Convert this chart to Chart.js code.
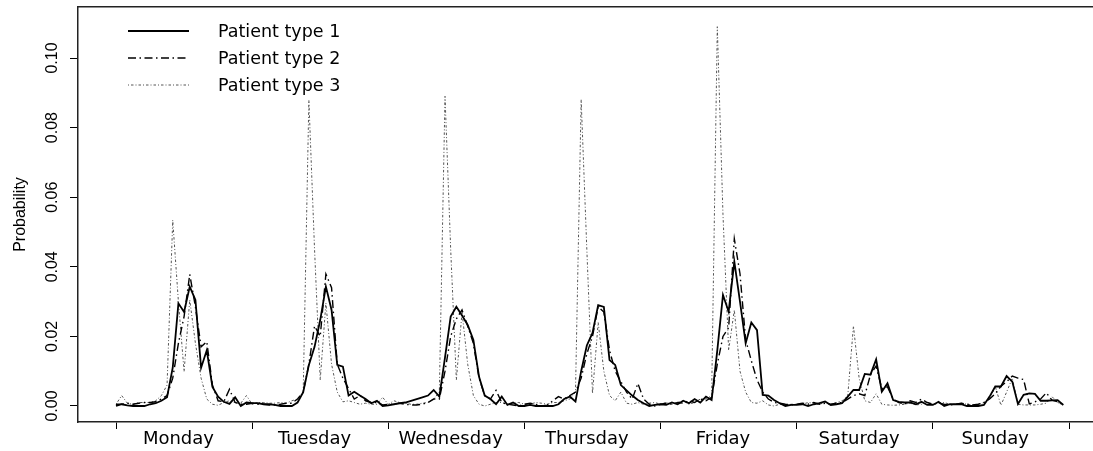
<!DOCTYPE html>
<html>
<head>
<meta charset="utf-8">
<script src="https://cdn.jsdelivr.net/npm/chart.js@4.4.1/dist/chart.umd.min.js"></script>
<style>
  html, body { margin: 0; padding: 0; background: #fff; overflow: hidden; }
  #chart { display: block; }
</style>
</head>
<body>
<canvas id="chart" width="1093" height="451"></canvas>
<script>
// days on the x axis, one value per hour (1..168)
const dayNames = ['Monday', 'Tuesday', 'Wednesday', 'Thursday', 'Friday', 'Saturday', 'Sunday'];
const yTicks = [0, 0.02, 0.04, 0.06, 0.08, 0.10];
const seriesNames = ['Patient type 1', 'Patient type 2', 'Patient type 3'];

const type1 = [
  0, 0.0005, 0.0002, 0, 0, 0, 0.0005, 0.0008, 0.0015, 0.0025, 0.011, 0.0295, 0.027, 0.0343, 0.0305, 0.011, 0.016, 0.0055, 0.0027, 0.0012, 0.0006, 0.0025, 0, 0.001,
  0.0008, 0.0008, 0.0005, 0.0005, 0.0003, 0, 0, 0, 0.001, 0.004, 0.0118, 0.017, 0.0247, 0.0343, 0.0276, 0.0118, 0.0113, 0.003, 0.0041, 0.003, 0.002, 0.0008, 0.0015, 0,
  0.0002, 0.0005, 0.0008, 0.001, 0.0015, 0.002, 0.0025, 0.003, 0.0046, 0.0027, 0.014, 0.0257, 0.0285, 0.026, 0.0233, 0.019, 0.0084, 0.003, 0.002, 0.0005, 0.0027, 0.0003, 0.001, 0,
  0, 0.0003, 0, 0, 0, 0, 0.0005, 0.002, 0.0027, 0.0013, 0.01, 0.0174, 0.021, 0.029, 0.0285, 0.0132, 0.0118, 0.006, 0.0045, 0.003, 0.0017, 0.0008, 0, 0.0003,
  0.0005, 0.0003, 0.001, 0.0005, 0.0015, 0.0008, 0.002, 0.001, 0.0027, 0.0017, 0.016, 0.0319, 0.0271, 0.0415, 0.03, 0.018, 0.024, 0.0218, 0.0032, 0.003, 0.0017, 0.0008, 0, 0.0003,
  0.0003, 0.0005, 0, 0.0005, 0.0008, 0.0013, 0.0003, 0.0005, 0.0008, 0.0027, 0.0046, 0.0046, 0.0092, 0.009, 0.0134, 0.0041, 0.0065, 0.0017, 0.0012, 0.001, 0.001, 0.0005, 0.0012, 0.0003,
  0.0003, 0.0012, 0, 0.0005, 0.0005, 0.0005, 0, 0, 0, 0.0003, 0.0027, 0.0056, 0.0056, 0.0086, 0.007, 0.0006, 0.0032, 0.0036, 0.0035, 0.0015, 0.0015, 0.0016, 0.0017, 0.0003
];

const type2 = [
  0.0005, 0.0005, 0.0008, 0.0005, 0.0008, 0.001, 0.001, 0.0012, 0.002, 0.003, 0.008, 0.018, 0.0257, 0.0378, 0.0285, 0.017, 0.0185, 0.006, 0.0015, 0.0012, 0.0048, 0.001, 0.0005, 0.0005,
  0.0008, 0.0005, 0.0005, 0.0003, 0.0003, 0.0005, 0.0008, 0.0008, 0.002, 0.004, 0.012, 0.023, 0.02, 0.0379, 0.034, 0.012, 0.008, 0.005, 0.002, 0.003, 0.0015, 0.001, 0.001, 0.0003,
  0.0005, 0.0005, 0.0008, 0.0005, 0.0003, 0.0003, 0.0005, 0.001, 0.002, 0.002, 0.01, 0.02, 0.025, 0.0276, 0.023, 0.018, 0.008, 0.003, 0.002, 0.0045, 0.001, 0.0005, 0.0003, 0,
  0.0005, 0.0008, 0.0005, 0, 0.0002, 0.0015, 0.0027, 0.002, 0.003, 0.004, 0.008, 0.015, 0.02, 0.0285, 0.027, 0.016, 0.01, 0.007, 0.004, 0.002, 0.0065, 0.002, 0.0005, 0,
  0.0005, 0.0008, 0.0005, 0.001, 0.0008, 0.0015, 0.001, 0.002, 0.0015, 0.0025, 0.012, 0.02, 0.0225, 0.048, 0.038, 0.019, 0.013, 0.0075, 0.004, 0.002, 0.001, 0.0008, 0.0005, 0.0003,
  0.0005, 0.0008, 0.0005, 0.001, 0.0005, 0.0008, 0.0005, 0.0008, 0.001, 0.002, 0.003, 0.0035, 0.003, 0.009, 0.0115, 0.005, 0.0055, 0.002, 0.001, 0.0005, 0.0015, 0.001, 0.002, 0.001,
  0.0005, 0.0008, 0.0005, 0.0003, 0.0005, 0.0008, 0.0005, 0.0003, 0.0005, 0.001, 0.002, 0.0035, 0.0057, 0.007, 0.0086, 0.008, 0.0076, 0.0006, 0.0012, 0.002, 0.0038, 0.0017, 0.0012, 0.0003
];

const type3 = [
  0.0005, 0.003, 0.0008, 0.0005, 0.001, 0.001, 0.001, 0.0015, 0.003, 0.006, 0.0534, 0.03, 0.0099, 0.0305, 0.018, 0.008, 0.002, 0.0005, 0.0002, 0.001, 0.0015, 0.001, 0.0008, 0.003,
  0.0005, 0.001, 0.001, 0.0008, 0.0008, 0.001, 0.0008, 0.0015, 0.002, 0.004, 0.0879, 0.045, 0.0075, 0.0296, 0.012, 0.004, 0.0012, 0.0015, 0.001, 0.0005, 0.0008, 0.0005, 0.0005, 0.0025,
  0.0005, 0.0015, 0.001, 0.0008, 0.0005, 0.0005, 0.0008, 0.001, 0.002, 0.004, 0.089, 0.045, 0.0075, 0.027, 0.012, 0.003, 0.0005, 0, 0.0005, 0.001, 0.001, 0.0005, 0.0008, 0.001,
  0.0005, 0.0005, 0.001, 0.0008, 0.0005, 0.001, 0.001, 0.0015, 0.002, 0.004, 0.088, 0.045, 0.0036, 0.024, 0.01, 0.003, 0.0015, 0.004, 0.0008, 0.0005, 0.001, 0.0005, 0.0008, 0.001,
  0.0005, 0.001, 0.0005, 0.001, 0.0015, 0.0005, 0.001, 0.002, 0.002, 0.003, 0.109, 0.055, 0.016, 0.0276, 0.01, 0.004, 0.001, 0.0008, 0.0015, 0.0003, 0, 0.0005, 0.0003, 0.0005,
  0.0005, 0.0005, 0.001, 0.0008, 0.0005, 0.001, 0.0005, 0.001, 0.0015, 0.003, 0.023, 0.008, 0.0015, 0.001, 0.0035, 0.0005, 0.0003, 0.0002, 0.0003, 0.0005, 0.0008, 0.0003, 0.0005, 0.001,
  0.0005, 0.0008, 0.001, 0.0005, 0.0005, 0.0008, 0.0005, 0.0003, 0.0005, 0.001, 0.002, 0.0056, 0.0002, 0.004, 0.008, 0.0005, 0.0003, 0.0003, 0.0003, 0.0005, 0.0008, 0.0027, 0.001, 0.0005
];

// tick marks at day starts, day names in the middle
const dayTicks = dayNames.map((d, i) => 1 + i * 24).concat([169]);
const labelTicks = dayNames.map((d, i) => 12 + i * 24);

const toPoints = arr => arr.map((v, i) => ({ x: i + 1, y: v }));

// no padding for labels, the box is fixed
const noPad = s => {
  s.paddingTop = 0;
  s.paddingBottom = 0;
  s.paddingLeft = 0;
  s.paddingRight = 0;
};

//legend drawn like R's legend()
const legendPlugin = {
  id: 'rLegend',
  afterDatasetsDraw(chart) {
    const ctx = chart.ctx;
    const left = chart.chartArea.left;
    ctx.save();
    chart.data.datasets.forEach((ds, i) => {
      const y = 31 + i * 27;
      ctx.beginPath();
      ctx.setLineDash(ds.borderDash || []);
      ctx.strokeStyle = ds.borderColor;
      ctx.lineWidth = ds.borderWidth;
      ctx.moveTo(left + 50, y);
      ctx.lineTo(left + 111, y);
      ctx.stroke();
      ctx.setLineDash([]);
      ctx.fillStyle = '#000';
      ctx.font = '17.5px "DejaVu Sans"';
      ctx.textBaseline = 'alphabetic';
      ctx.fillText(ds.label, left + 140, y + 6);
    });
    ctx.restore();
  }
};

new Chart(document.getElementById('chart').getContext('2d'), {
  type: 'line',
  data: {
    datasets: [
      { label: seriesNames[0], data: toPoints(type1), borderColor: '#000', borderWidth: 1.8, borderDash: [] },
      { label: seriesNames[1], data: toPoints(type2), borderColor: '#000', borderWidth: 1.4, borderDash: [8, 3.5, 1.5, 3.5] },
      { label: seriesNames[2], data: toPoints(type3), borderColor: '#555', borderWidth: 1, borderDash: [1, 2, 2.5, 2] }
    ]
  },
  options: {
    responsive: false,
    animation: false,
    devicePixelRatio: 1,
    layout: { padding: { top: 7, left: 0, right: 0, bottom: 0 } },
    elements: {
      line: { tension: 0, fill: false },
      point: { radius: 0 }
    },
    plugins: {
      legend: { display: false },
      tooltip: { enabled: false }
    },
    scales: {
      x: {
        type: 'linear',
        position: 'bottom',
        min: -5.7,
        max: 173.23,
        afterBuildTicks: s => {
          s.ticks = dayTicks.concat(labelTicks).sort((a, b) => a - b).map(v => ({ value: v }));
        },
        afterFit: s => { s.height = 29; noPad(s); },
        grid: {
          drawOnChartArea: false,
          tickLength: 7,
          lineWidth: 1,
          color: c => (c.tick && dayTicks.includes(c.tick.value)) ? '#000' : 'rgba(0,0,0,0)'
        },
        border: { display: true, color: '#222', width: 1.5 },
        ticks: {
          autoSkip: false,
          maxRotation: 0,
          padding: 0,
          color: '#000',
          font: { family: 'DejaVu Sans', size: 18 },
          callback: v => {
            const k = labelTicks.indexOf(v);
            return k >= 0 ? dayNames[k] : '';
          }
        }
      },
      xTop: {
        type: 'linear',
        position: 'top',
        grid: { display: false, drawTicks: false },
        ticks: { display: false },
        border: { display: true, color: '#222', width: 1.5 },
        afterFit: s => { s.height = 0; noPad(s); }
      },
      y: {
        min: -0.0046,
        max: 0.11466,
        afterBuildTicks: s => { s.ticks = yTicks.map(v => ({ value: v })); },
        afterFit: s => { s.width = 78; noPad(s); },
        grid: { drawOnChartArea: false, tickLength: 8, color: '#000' },
        border: { color: '#222', width: 1.5 },
        ticks: {
          minRotation: 90,
          maxRotation: 90,
          crossAlign: 'center',
          padding: 2,
          color: '#000',
          font: { family: "'Liberation Sans Narrow', 'Liberation Sans'", size: 16 },
          callback: v => v.toFixed(2)
        },
        title: {
          display: true,
          text: 'Probability',
          color: '#000',
          font: { family: 'Liberation Sans', size: 16 },
          padding: { top: 11, bottom: 0 }
        }
      }
    }
  },
  plugins: [legendPlugin]
});
</script>
</body>
</html>
